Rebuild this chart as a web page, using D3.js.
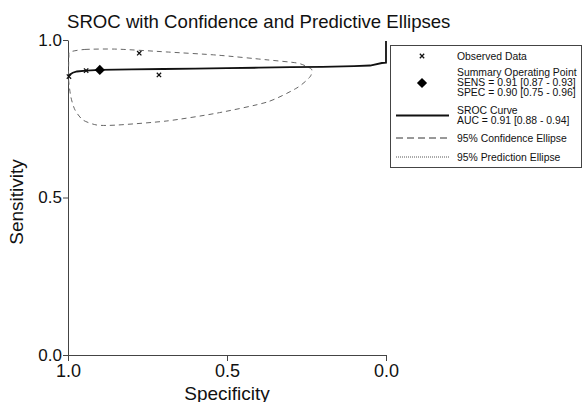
<!DOCTYPE html>
<html>
<head>
<meta charset="utf-8">
<script src="https://cdn.jsdelivr.net/npm/d3@7"></script>
<style>
body { margin: 0; background: #fff; }
text { font-family: "Liberation Sans", Arial, sans-serif; fill: #111; }
</style>
</head>
<body>
<div id="chart-area"></div>
<script>
// values (specificity, sensitivity)
var curveSpec = [1.0, 0.995, 0.985, 0.972, 0.943, 0.9, 0.8, 0.7, 0.6, 0.5, 0.4, 0.3, 0.2, 0.1, 0.05, 0.013, 0.0, 0.0];
var curveSens = [0.884, 0.89, 0.896, 0.9, 0.903, 0.905, 0.907, 0.908, 0.909, 0.911, 0.912, 0.914, 0.915, 0.917, 0.919, 0.927, 0.928, 0.997];

var ellSpec = [0.994, 0.947, 0.846, 0.689, 0.531, 0.374, 0.28, 0.245, 0.233, 0.239, 0.28, 0.374, 0.531, 0.689, 0.846, 0.909, 0.953, 0.978, 0.991, 0.998, 0.998, 0.997];
var ellSens = [0.962, 0.97, 0.971, 0.962, 0.952, 0.937, 0.927, 0.914, 0.905, 0.883, 0.848, 0.803, 0.768, 0.743, 0.73, 0.73, 0.746, 0.778, 0.819, 0.873, 0.921, 0.949];

var obsSpec = [0.997, 0.943, 0.776, 0.714];
var obsSens = [0.884, 0.903, 0.958, 0.889];

var summarySpec = 0.90;
var summarySens = 0.905;

var tickValues = [0.0, 0.5, 1.0];

var legendLabels = [
	["Observed Data"],
	["Summary Operating Point", "SENS = 0.91 [0.87 - 0.93]", "SPEC = 0.90 [0.75 - 0.96]"],
	["SROC Curve", "AUC = 0.91 [0.88 - 0.94]"],
	["95% Confidence Ellipse"],
	["95% Prediction Ellipse"]
];

var width = 588;
var height = 402;

var svg = d3.select("#chart-area").append("svg")
	.attr("width", width)
	.attr("height", height);

var x = d3.scaleLinear().domain([1, 0]).range([68, 386]);
var y = d3.scaleLinear().domain([0, 1]).range([355, 40]);

// title
svg.append("text")
	.attr("x", 67)
	.attr("y", 28)
	.attr("font-size", "18.6px")
	.text("SROC with Confidence and Predictive Ellipses");

// axes
var bottomAxis = d3.axisBottom(x)
	.tickValues(tickValues)
	.tickFormat(d3.format(".1f"))
	.tickSize(6)
	.tickSizeOuter(0)
	.tickPadding(3);
var gx = svg.append("g")
	.attr("transform", "translate(0, 355)")
	.call(bottomAxis);
gx.selectAll("text").attr("font-size", "18px").attr("font-family", null);

var leftAxis = d3.axisLeft(y)
	.tickValues(tickValues)
	.tickFormat(d3.format(".1f"))
	.tickSize(5)
	.tickSizeOuter(0)
	.tickPadding(1);
var gy = svg.append("g")
	.attr("transform", "translate(68, 0)")
	.call(leftAxis);
gy.selectAll("text").attr("font-size", "17px").attr("font-family", null);

svg.selectAll(".domain, .tick line").attr("stroke", "#444");

svg.append("text")
	.attr("x", 227)
	.attr("y", 400)
	.attr("font-size", "19px")
	.attr("text-anchor", "middle")
	.text("Specificity");
svg.append("text")
	.attr("transform", "translate(23, 202) rotate(-90)")
	.attr("font-size", "19px")
	.attr("text-anchor", "middle")
	.text("Sensitivity");

// confidence ellipse
var ellPts = ellSpec.map((d, i) => [x(d), y(ellSens[i])]);
svg.append("path")
	.attr("d", d3.line().curve(d3.curveCardinalClosed.tension(0.3))(ellPts))
	.attr("fill", "none")
	.attr("stroke", "#666")
	.attr("stroke-width", 1)
	.attr("stroke-dasharray", "5,4");

// sroc curve
var curvePts = curveSpec.map((d, i) => [x(d), y(curveSens[i])]);
svg.append("path")
	.attr("d", d3.line()(curvePts))
	.attr("fill", "none")
	.attr("stroke", "#111")
	.attr("stroke-width", 1.8);

// observed data
var cross = d3.symbol().type(d3.symbolTimes || d3.symbolCross).size(14);
svg.selectAll(".obs")
	.data(obsSpec)
	.enter()
	.append("path")
		.attr("class", "obs")
		.attr("transform", (d, i) => "translate(" + x(d) + "," + y(obsSens[i]) + ")")
		.attr("d", cross)
		.attr("fill", "none")
		.attr("stroke", "#111")
		.attr("stroke-width", 1.3);

// summary point
svg.append("path")
	.attr("transform", "translate(" + x(summarySpec) + "," + y(summarySens) + ") rotate(45)")
	.attr("d", d3.symbol().type(d3.symbolSquare).size(52))
	.attr("fill", "#000");

// legend
var lg = svg.append("g");
lg.append("rect")
	.attr("x", 390.5)
	.attr("y", 45.5)
	.attr("width", 191)
	.attr("height", 122)
	.attr("fill", "#fff")
	.attr("stroke", "#444")
	.attr("stroke-width", 1);

var lineY = [[56], [72, 82, 92], [110.5, 120.5], [138], [157]];
lg.selectAll(".lbl")
	.data(legendLabels)
	.enter()
	.append("g")
	.each(function(lines, i) {
		d3.select(this).selectAll("text")
			.data(lines)
			.enter()
			.append("text")
				.attr("x", 457)
				.attr("y", (d, j) => lineY[i][j])
				.attr("dy", "0.35em")
				.attr("font-size", "10.4px")
				.text(d => d);
	});

lg.append("path")
	.attr("transform", "translate(422, 56)")
	.attr("d", cross)
	.attr("fill", "none")
	.attr("stroke", "#111")
	.attr("stroke-width", 1.3);
lg.append("path")
	.attr("transform", "translate(422, 83) rotate(45)")
	.attr("d", d3.symbol().type(d3.symbolSquare).size(52))
	.attr("fill", "#000");
lg.append("line")
	.attr("x1", 396).attr("x2", 449)
	.attr("y1", 115.5).attr("y2", 115.5)
	.attr("stroke", "#111")
	.attr("stroke-width", 1.8);
lg.append("line")
	.attr("x1", 396).attr("x2", 449)
	.attr("y1", 138).attr("y2", 138)
	.attr("stroke", "#333")
	.attr("stroke-width", 1)
	.attr("stroke-dasharray", "7,4");
lg.append("line")
	.attr("x1", 396).attr("x2", 449)
	.attr("y1", 157).attr("y2", 157)
	.attr("stroke", "#555")
	.attr("stroke-width", 1)
	.attr("stroke-dasharray", "1,1");
</script>
</body>
</html>
